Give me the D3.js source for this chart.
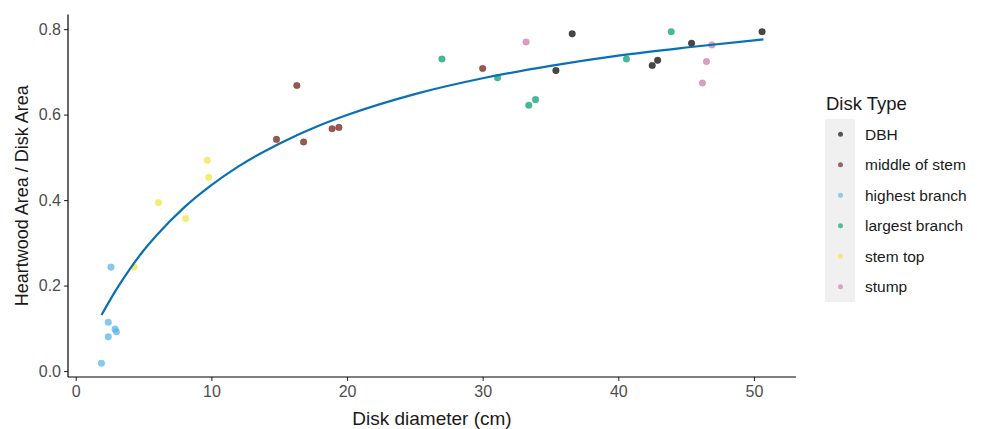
<!DOCTYPE html>
<html>
<head>
<meta charset="utf-8">
<script src="https://cdn.jsdelivr.net/npm/d3@7"></script>
<style>
  html, body { margin: 0; padding: 0; background: #ffffff; }
  svg { display: block; font-family: "Liberation Sans", Arial, sans-serif; }
</style>
</head>
<body>
<svg id="chart" width="984" height="429"></svg>
<script>
// Disk types, in legend order, with their point colours
const diskTypes = ["DBH", "middle of stem", "highest branch", "largest branch", "stem top", "stump"];
const typeColors = ["#000000", "#6B1A0E", "#56B4E9", "#009E73", "#F0E442", "#CC79A7"];

// Disk diameter (cm) and heartwood proportion, per disk type
const dbhDiameter = [35.4, 36.6, 42.5, 42.9, 45.4, 50.6];
const dbhRatio = [0.703, 0.789, 0.715, 0.727, 0.767, 0.794];

const middleDiameter = [14.8, 16.3, 16.8, 18.9, 19.4, 30.0];
const middleRatio = [0.542, 0.668, 0.536, 0.567, 0.570, 0.708];

const highestDiameter = [1.9, 2.4, 2.4, 2.6, 2.9, 3.0];
const highestRatio = [0.018, 0.080, 0.114, 0.243, 0.098, 0.092];

const largestDiameter = [27.0, 31.1, 33.4, 33.9, 40.6, 43.9];
const largestRatio = [0.730, 0.686, 0.622, 0.635, 0.730, 0.794];

const stemTopDiameter = [4.3, 6.1, 8.1, 9.7, 9.8];
const stemTopRatio = [0.243, 0.394, 0.357, 0.493, 0.453];

const stumpDiameter = [33.2, 46.2, 46.5, 46.9];
const stumpRatio = [0.770, 0.674, 0.724, 0.763];

// Fitted trend line
const trendDiameter = [1.9, 3, 4, 5, 6, 8, 10, 12, 15, 18, 20, 25, 30, 35, 40, 45, 50.7];
const trendRatio = [0.131, 0.191, 0.239, 0.282, 0.319, 0.383, 0.435, 0.479, 0.532, 0.575, 0.599, 0.648, 0.685, 0.714, 0.738, 0.757, 0.776];

// Axis ticks
const xTicks = [0, 10, 20, 30, 40, 50];
const yTicks = [0.0, 0.2, 0.4, 0.6, 0.8];

const seriesX = [dbhDiameter, middleDiameter, highestDiameter, largestDiameter, stemTopDiameter, stumpDiameter];
const seriesY = [dbhRatio, middleRatio, highestRatio, largestRatio, stemTopRatio, stumpRatio];

const points = [];
diskTypes.forEach((t, i) => {
  seriesX[i].forEach((d, j) => points.push({ type: t, color: typeColors[i], x: d, y: seriesY[i][j] }));
});
const trend = trendDiameter.map((d, i) => ({ x: d, y: trendRatio[i] }));

const svg = d3.select("#chart");
const panel = { left: 68, right: 796, top: 14.6, bottom: 377 };

const x = d3.scaleLinear().domain([-0.57, 53.1]).range([panel.left, panel.right]);
const y = d3.scaleLinear().domain([-0.014, 0.834]).range([panel.bottom, panel.top]);

// Axes
const xAxis = svg.append("g")
  .attr("transform", `translate(0,${panel.bottom})`)
  .call(d3.axisBottom(x).tickValues(xTicks).tickFormat(d3.format("d")).tickSizeOuter(0).tickSize(4).tickPadding(5));
const yAxis = svg.append("g")
  .attr("transform", `translate(${panel.left},0)`)
  .call(d3.axisLeft(y).tickValues(yTicks).tickFormat(d3.format(".1f")).tickSizeOuter(0).tickSize(4).tickPadding(3));

[xAxis, yAxis].forEach(g => {
  g.select(".domain").remove();
  g.selectAll(".tick line").attr("stroke", "#333333").attr("stroke-width", 1.1);
  g.selectAll(".tick text")
    .attr("fill", "#4d4d4d")
    .style("font-size", "16px")
    .style("font-family", "'Liberation Sans', Arial, sans-serif");
});

svg.append("line")
  .attr("x1", panel.left).attr("x2", panel.right)
  .attr("y1", panel.bottom).attr("y2", panel.bottom)
  .attr("stroke", "#000000").attr("stroke-width", 1.2);
svg.append("line")
  .attr("x1", panel.left).attr("x2", panel.left)
  .attr("y1", panel.top).attr("y2", panel.bottom)
  .attr("stroke", "#000000").attr("stroke-width", 1.2);

// Axis titles
svg.append("text")
  .attr("x", (panel.left + panel.right) / 2)
  .attr("y", 425)
  .attr("text-anchor", "middle")
  .style("font-size", "19px")
  .attr("fill", "#1a1a1a")
  .text("Disk diameter (cm)");

svg.append("text")
  .attr("transform", `translate(28,${(panel.top + panel.bottom) / 2}) rotate(-90)`)
  .attr("text-anchor", "middle")
  .style("font-size", "18px")
  .attr("fill", "#1a1a1a")
  .text("Heartwood Area / Disk Area");

// Data points
svg.append("g")
  .selectAll("circle")
  .data(points)
  .join("circle")
  .attr("cx", d => x(d.x))
  .attr("cy", d => y(d.y))
  .attr("r", 3.3)
  .attr("fill", d => d.color)
  .attr("fill-opacity", 0.72)
  .attr("stroke", d => d.color)
  .attr("stroke-opacity", 0.35)
  .attr("stroke-width", 0.8);

// Trend line
svg.append("path")
  .datum(trend)
  .attr("fill", "none")
  .attr("stroke", "#0a70b5")
  .attr("stroke-width", 2.2)
  .attr("d", d3.line().x(d => x(d.x)).y(d => y(d.y)).curve(d3.curveMonotoneX));

// Legend
const legend = svg.append("g");
legend.append("text")
  .attr("x", 826)
  .attr("y", 110)
  .style("font-size", "18.5px")
  .attr("fill", "#1a1a1a")
  .text("Disk Type");

const keyTop = 119, keyH = 30.5;
legend.append("rect")
  .attr("x", 825).attr("y", keyTop)
  .attr("width", 30).attr("height", keyH * diskTypes.length)
  .attr("fill", "#f0f0f0");

const items = legend.selectAll("g.item")
  .data(diskTypes)
  .join("g")
  .attr("class", "item")
  .attr("transform", (d, i) => `translate(0,${keyTop + keyH * i + keyH / 2})`);

items.append("circle")
  .attr("cx", 840.5)
  .attr("cy", 0)
  .attr("r", 2.5)
  .attr("fill", (d, i) => typeColors[i])
  .attr("fill-opacity", 0.65);

items.append("text")
  .attr("x", 865)
  .attr("y", 0)
  .attr("dy", "0.35em")
  .style("font-size", "15.5px")
  .attr("fill", "#1a1a1a")
  .text(d => d);
</script>
</body>
</html>
